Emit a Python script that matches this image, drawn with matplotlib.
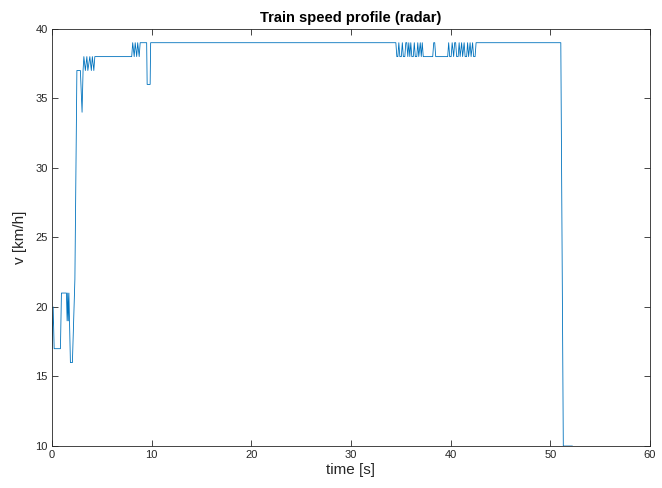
import matplotlib
matplotlib.use('Agg')
import matplotlib.pyplot as plt

plt.rcParams['font.family'] = ['Liberation Sans', 'DejaVu Sans']

# radar speed samples (breakpoints)
time_s = [
    0.00, 0.12, 0.22, 0.85, 0.95, 1.45, 1.52, 1.58, 1.64, 1.70, 1.76, 1.85,
    2.05, 2.30, 2.50, 2.85, 3.02, 3.12, 3.20, 3.35, 3.50, 3.60, 3.80, 3.95,
    4.05, 4.20, 4.30, 8.00, 8.10, 8.25, 8.35, 8.50, 8.60, 8.75, 8.85, 9.50,
    9.55, 9.85, 9.90,
    34.50, 34.60, 34.70, 34.80, 34.90, 35.05, 35.15, 35.25, 35.40, 35.50,
    35.60, 35.70, 35.80, 35.90, 36.00, 36.10, 36.25, 36.35, 36.45, 36.60,
    36.70, 36.80, 36.95, 37.05, 37.15, 37.25, 38.20, 38.30, 38.40, 38.50,
    39.70, 39.80, 39.90, 40.05, 40.15, 40.30, 40.40, 40.50, 40.60, 40.75,
    40.85, 40.95, 41.10, 41.20, 41.35, 41.45, 41.60, 41.70, 41.80, 41.95,
    42.05, 42.20, 42.30, 42.45, 42.55,
    51.05, 51.30, 52.20,
]
speed_kmh = [
    17, 20, 17, 17, 21, 21, 19, 21, 19, 21, 19, 16,
    16, 22, 37, 37, 34, 37, 38, 37, 38, 37, 38, 37,
    38, 37, 38, 38, 39, 38, 39, 38, 39, 38, 39, 39,
    36, 36, 39,
    39, 38, 38, 39, 38, 38, 39, 38, 38, 39,
    39, 38, 39, 38, 39, 38, 38, 39, 38, 38,
    39, 38, 39, 38, 39, 38, 38, 39, 39, 38,
    38, 39, 38, 38, 39, 38, 39, 39, 38, 38,
    39, 38, 39, 38, 39, 38, 38, 39, 38, 39,
    38, 39, 38, 38, 39,
    39, 10, 10,
]

x_ticks = [0, 10, 20, 30, 40, 50, 60]
y_ticks = [10, 15, 20, 25, 30, 35, 40]

axis_gray = '#262626'

fig = plt.figure(figsize=(6.62, 4.88), dpi=100)
ax = fig.add_axes([0.0785, 0.086, 0.9034, 0.855])

ax.plot(time_s, speed_kmh, color='#0072BD', linewidth=0.6)

ax.set_xlim(0, 60)
ax.set_ylim(10, 40)
ax.set_xticks(x_ticks)
ax.set_yticks(y_ticks)

for side in ax.spines.values():
    side.set_color(axis_gray)
    side.set_linewidth(0.6)
ax.tick_params(direction='in', top=True, right=True, length=4, width=0.6,
               colors=axis_gray, labelsize=8, pad=3)

ax.set_title('Train speed profile (radar)', fontsize=10.5, fontweight='bold',
             color='black', pad=5)
ax.set_xlabel('time [s]', fontsize=11, color=axis_gray, labelpad=2)
ax.set_ylabel('v [km/h]', fontsize=11, color=axis_gray, labelpad=6)

fig.savefig('out.png', dpi=100)
